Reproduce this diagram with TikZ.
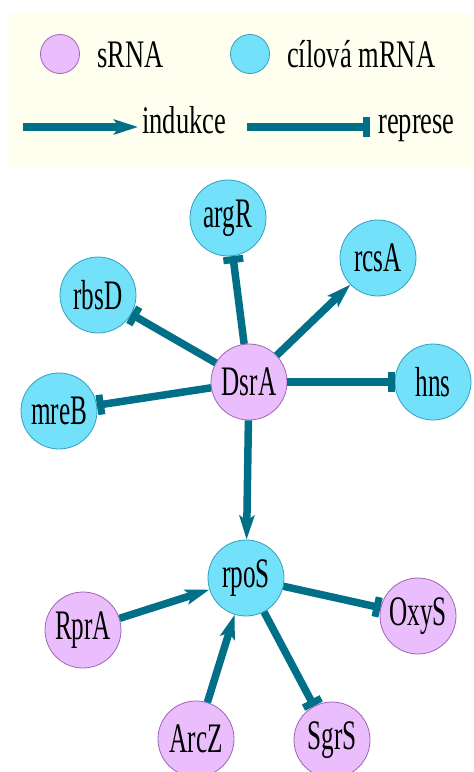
\documentclass[tikz,border=0pt]{standalone}
\usepackage{fontspec}
\setmainfont{Liberation Serif}[FakeStretch=0.6]
\newfontfamily\legfont{Liberation Serif}[FakeStretch=0.68]
\usetikzlibrary{arrows.meta}
\definecolor{edgecol}{RGB}{0,111,135}
\definecolor{srnafill}{RGB}{234,190,252}
\definecolor{srnaline}{RGB}{160,100,180}
\definecolor{mrnafill}{RGB}{115,225,250}
\definecolor{mrnaline}{RGB}{50,160,190}
\definecolor{legbg}{RGB}{255,255,240}
\tikzset{
  base/.style={circle,minimum size=76pt,inner sep=0pt,line width=0.8pt,font=\fontsize{42}{44}\selectfont},
  srna/.style={base,fill=srnafill,draw=srnaline},
  mrna/.style={base,fill=mrnafill,draw=mrnaline},
  legsrna/.style={circle,minimum size=39pt,inner sep=0pt,line width=0.8pt,fill=srnafill,draw=srnaline},
  legmrna/.style={circle,minimum size=39pt,inner sep=0pt,line width=0.8pt,fill=mrnafill,draw=mrnaline},
  legtext/.style={anchor=base west,inner sep=0pt,font=\legfont\fontsize{39}{41}\selectfont},
  ind/.style={draw=edgecol,line width=7.5pt,-{Stealth[length=24pt,width=15pt,inset=5pt,fill=edgecol]}},
  rep/.style={draw=edgecol,line width=7.5pt,-{Rectangle[length=7pt,width=20pt,fill=edgecol]}}
}
\begin{document}
\begin{tikzpicture}[x=1pt,y=-1pt]
\useasboundingbox (0,0) rectangle (474,772);
% legend
\fill[legbg] (8,13) rectangle (474,167);
\node[legsrna] (ls) at (60,54) {};
\node[legtext] (lst) at (97,67) {sRNA};
\node[legmrna] (lm) at (250,54) {};
\node[legtext] (lmt) at (287,67) {cílová mRNA};
\coordinate (ia) at (23,127);
\coordinate (ib) at (138,127);
\draw[ind] (ia) -- (ib);
\node[legtext] (it) at (142,133) {indukce};
\coordinate (ra) at (247,127);
\coordinate (rb) at (370,127);
\draw[rep] (ra) -- (rb);
\node[legtext] (rt) at (378,133) {represe};
% nodes
\node[mrna] (argR) at (228,218) {argR};
\node[mrna] (rcsA) at (378,258) {rcsA};
\node[mrna] (rbsD) at (98,295) {rbsD};
\node[srna] (DsrA) at (249,382) {DsrA};
\node[mrna] (hns) at (433,382) {hns};
\node[mrna] (mreB) at (59,411) {mreB};
\node[mrna] (rpoS) at (246,578) {rpoS};
\node[srna] (OxyS) at (418,616) {OxyS};
\node[srna] (RprA) at (83,630) {RprA};
\node[srna] (ArcZ) at (196,739) {ArcZ};
\node[srna] (SgrS) at (332,740) {SgrS};
% edges
\draw[rep] (DsrA) -- (argR);
\draw[ind] (DsrA) -- (rcsA);
\draw[rep] (DsrA) -- (rbsD);
\draw[rep] (DsrA) -- (hns);
\draw[rep] (DsrA) -- (mreB);
\draw[ind] (DsrA) -- (rpoS);
\draw[ind] (RprA) -- (rpoS);
\draw[ind] (ArcZ) -- (rpoS);
\draw[rep] (rpoS) -- (OxyS);
\draw[rep] (rpoS) -- (SgrS);
\end{tikzpicture}
\end{document}
